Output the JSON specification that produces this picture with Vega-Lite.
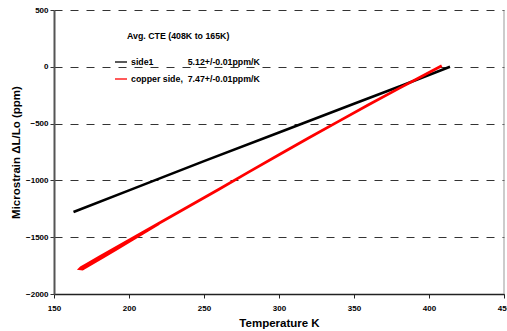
{
  "$schema": "https://vega.github.io/schema/vega-lite/v6.json",
  "autosize": "none",
  "width": 450,
  "height": 284,
  "padding": {"left": 54, "top": 10, "right": 3, "bottom": 37},
  "background": "white",
  "config": {
    "view": {"stroke": null},
    "font": "Liberation Sans",
    "axis": {"labelFont": "Liberation Sans", "titleFont": "Liberation Sans", "labelFontWeight": "bold", "titleFontWeight": "bold", "labelColor": "#000", "titleColor": "#000"}
  },
  "datasets": {
    "curves": [
      {"T": 163, "strain": -1278, "series": "side1", "ord": 1},
      {"T": 200, "strain": -1088, "series": "side1", "ord": 2},
      {"T": 250, "strain": -830, "series": "side1", "ord": 3},
      {"T": 300, "strain": -578, "series": "side1", "ord": 4},
      {"T": 350, "strain": -326, "series": "side1", "ord": 5},
      {"T": 382, "strain": -165, "series": "side1", "ord": 6},
      {"T": 414, "strain": 0, "series": "side1", "ord": 7},
      {"T": 408.5, "strain": 10, "series": "copper side", "ord": 1},
      {"T": 395, "strain": -85, "series": "copper side", "ord": 2},
      {"T": 380, "strain": -190, "series": "copper side", "ord": 3},
      {"T": 360, "strain": -332, "series": "copper side", "ord": 4},
      {"T": 340, "strain": -478, "series": "copper side", "ord": 5},
      {"T": 320, "strain": -625, "series": "copper side", "ord": 6},
      {"T": 300, "strain": -775, "series": "copper side", "ord": 7},
      {"T": 280, "strain": -925, "series": "copper side", "ord": 8},
      {"T": 260, "strain": -1078, "series": "copper side", "ord": 9},
      {"T": 240, "strain": -1228, "series": "copper side", "ord": 10},
      {"T": 220, "strain": -1378, "series": "copper side", "ord": 11},
      {"T": 205, "strain": -1490, "series": "copper side", "ord": 12},
      {"T": 190, "strain": -1602, "series": "copper side", "ord": 13},
      {"T": 180, "strain": -1677, "series": "copper side", "ord": 14},
      {"T": 172, "strain": -1737, "series": "copper side", "ord": 15},
      {"T": 168, "strain": -1768, "series": "copper side", "ord": 16},
      {"T": 167.3, "strain": -1777, "series": "copper side", "ord": 17},
      {"T": 169, "strain": -1780, "series": "copper side", "ord": 18},
      {"T": 175, "strain": -1735, "series": "copper side", "ord": 19},
      {"T": 183, "strain": -1673, "series": "copper side", "ord": 20},
      {"T": 192, "strain": -1602, "series": "copper side", "ord": 21},
      {"T": 200, "strain": -1538, "series": "copper side", "ord": 22},
      {"T": 210, "strain": -1458, "series": "copper side", "ord": 23},
      {"T": 220, "strain": -1380, "series": "copper side", "ord": 24}
    ],
    "note": [{"T": 198.7, "strain": 268, "label": "Avg. CTE (408K to 165K)"}],
    "border": [{"T": 450, "top": 500, "bottom": -2000}]
  },
  "layer": [
    {
      "data": {"name": "border"},
      "mark": {"type": "rule", "color": "#999", "strokeWidth": 1},
      "encoding": {
        "x": {"field": "T", "type": "quantitative",
          "scale": {"domain": [150, 450], "nice": false, "zero": false},
          "axis": {"title": "Temperature K", "values": [150, 200, 250, 300, 350, 400, 450], "format": "d", "labelFontSize": 8, "titleFontSize": 11.5, "domainColor": "#222", "domainWidth": 1.5, "tickColor": "#222", "tickSize": 4, "labelPadding": 6, "titlePadding": 5, "grid": false, "labelFlush": false}},
        "y": {"field": "top", "type": "quantitative",
          "scale": {"domain": [-2000, 500], "nice": false, "zero": false},
          "axis": {"title": "Microstrain \u0394L/Lo (ppm)", "values": [-2000, -1500, -1000, -500, 0, 500], "format": "d", "labelFontSize": 8, "titleFontSize": 11.5, "domainColor": "#555", "domainWidth": 2, "tickColor": "#333", "tickSize": 4, "labelPadding": 2, "titlePadding": 4, "grid": true, "gridColor": "#333", "gridDash": [8, 8], "gridWidth": 1}},
        "y2": {"field": "bottom"}
      }
    },
    {
      "data": {"name": "curves"},
      "transform": [{"filter": "datum.series == 'side1'"}],
      "mark": {"type": "line", "strokeWidth": 2.6},
      "encoding": {
        "x": {"field": "T", "type": "quantitative"},
        "y": {"field": "strain", "type": "quantitative"},
        "order": {"field": "ord", "type": "quantitative"},
        "color": {"field": "series", "type": "nominal",
          "scale": {"domain": ["side1", "copper side"], "range": ["#000000", "#ff0000"]},
          "legend": {"orient": "none", "legendX": 60, "legendY": 45, "title": null, "symbolType": "stroke", "symbolSize": 144, "symbolStrokeWidth": 1.3, "labelFontSize": 8.8, "labelFontWeight": "bold", "labelFont": "Liberation Sans", "labelColor": "#000", "labelOffset": 3, "rowPadding": 5, "padding": 0,
            "labelExpr": "datum.label == 'side1' ? 'side1\u00a0\u00a0\u00a0\u00a0\u00a0\u00a0\u00a0\u00a0\u00a0\u00a0\u00a0\u00a0\u00a0\u00a05.12+/-0.01ppm/K' : 'copper side,\u00a0\u00a07.47+/-0.01ppm/K'"}}
      }
    },
    {
      "data": {"name": "curves"},
      "transform": [{"filter": "datum.series == 'copper side'"}],
      "mark": {"type": "line", "strokeWidth": 2.8},
      "encoding": {
        "x": {"field": "T", "type": "quantitative"},
        "y": {"field": "strain", "type": "quantitative"},
        "order": {"field": "ord", "type": "quantitative"},
        "color": {"field": "series", "type": "nominal"}
      }
    },
    {
      "data": {"name": "note"},
      "mark": {"type": "text", "align": "left", "baseline": "middle", "fontSize": 8.8, "fontWeight": "bold", "font": "Liberation Sans", "color": "#000"},
      "encoding": {
        "x": {"field": "T", "type": "quantitative"},
        "y": {"field": "strain", "type": "quantitative"},
        "text": {"field": "label"}
      }
    }
  ]
}
